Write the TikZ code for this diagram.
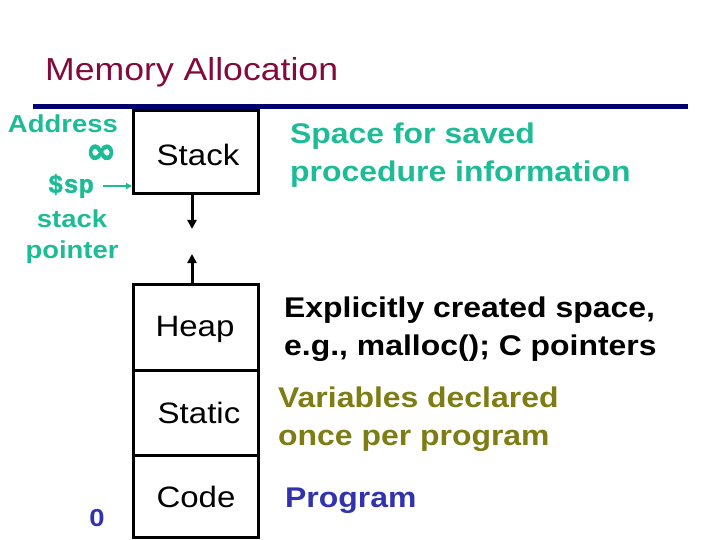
\documentclass[tikz,border=0pt]{standalone}
\usepackage{fontspec}
\setmainfont{Liberation Sans}[FakeStretch=1.12]
\newfontfamily\monob{Liberation Mono}[FakeBold=1.5]
\newfontfamily\symf{DejaVu Sans}[FakeBold=2.5]
\usetikzlibrary{arrows.meta}
\definecolor{teal1}{RGB}{30,188,150}
\definecolor{maroon1}{RGB}{130,10,60}
\definecolor{olive1}{RGB}{125,125,20}
\definecolor{blue1}{RGB}{50,50,175}
\definecolor{navy1}{RGB}{0,0,110}
\tikzset{
  memboxx/.style={draw=black, line width=3pt},
  boxlabel/.style={font=\fontsize{29.5}{34}\selectfont, text=black},
  desc/.style={font=\bfseries\fontsize{28.5}{38}\selectfont, align=left, anchor=west, inner sep=0pt},
  lefttxt/.style={font=\bfseries\fontsize{24.5}{30}\selectfont, text=teal1, inner sep=0pt},
  growarrow/.style={line width=3pt, -{Triangle[length=9pt,width=9pt]}}
}
\begin{document}
\begin{tikzpicture}[x=1pt,y=-1pt]
\useasboundingbox (0,0) rectangle (720,540);
% title
\node[anchor=west, inner sep=0pt, text=maroon1, font=\fontsize{31.8}{34}\selectfont] (title) at (45,72) {Memory Allocation};
\draw[navy1, line width=5pt] (33,107) -- (688,107);
% boxes
\draw[memboxx] (133,111) rectangle (258,194);
\node[boxlabel] (stack) at (198,155) {Stack};
\draw[memboxx] (133,284) rectangle (258,537);
\draw[memboxx] (133,370) -- (258,370);
\draw[memboxx] (133,455) -- (258,455);
\node[boxlabel] (heap) at (195,329) {Heap};
\node[boxlabel] (static) at (199,413) {Static};
\node[boxlabel] (code) at (196,497) {Code};
\coordinate (sbot) at (192,194);
\coordinate (sdown) at (192,229);
\coordinate (htop) at (192,284);
\coordinate (hup) at (192,254);
\draw[growarrow] (sbot) -- (sdown);
\draw[growarrow] (htop) -- (hup);
% left labels
\node[lefttxt, anchor=east] (addr) at (118,124) {Address};
\node[text=teal1, inner sep=0pt, anchor=base, text height=20pt, text depth=0pt, font=\symf\bfseries\fontsize{36}{36}\selectfont] (inf) at (101,163) {∞};
\node[text=teal1, inner sep=0pt, font=\monob\bfseries\fontsize{25.5}{30}\selectfont] (sp) at (71,186) {\$sp};
\coordinate (sptip) at (132,186);
\draw[teal1, line width=2.2pt, -{Triangle[length=6pt,width=6pt]}] (103,186) -- (sptip);
\node[lefttxt] (stk) at (72,219) {stack};
\node[lefttxt] (ptr) at (72,252) {pointer};
\node[lefttxt, text=blue1] (zero) at (97,518) {0};
% descriptions
\node[desc, text=teal1] (d1) at (290,155) {Space for saved\\procedure information};
\node[desc, text=black] (d2) at (284,329) {Explicitly created space,\\e.g., malloc(); C pointers};
\node[desc, text=olive1] (d3) at (278,419) {Variables declared\\once per program};
\node[desc, text=blue1] (d4) at (285,501) {Program};
\end{tikzpicture}
\end{document}
